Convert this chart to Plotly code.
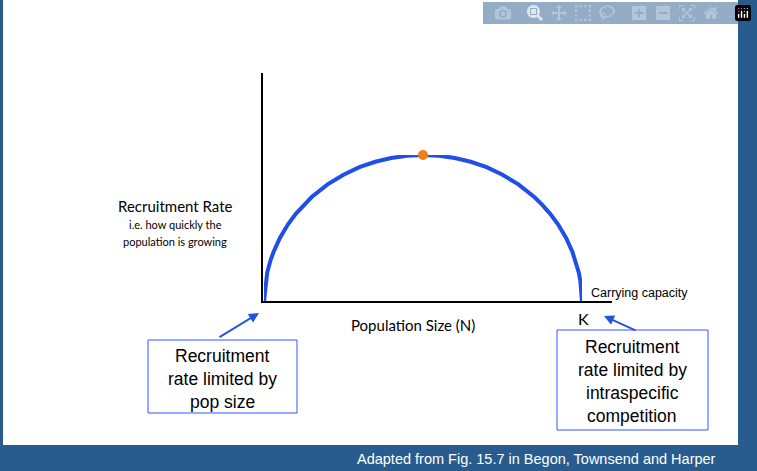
import plotly.graph_objects as go

W, H = 757, 471
N = [0, 0.5, 1, 2, 3, 5, 7.5, 10, 12.5, 15, 20, 25, 30, 35, 40, 45, 50,
     55, 60, 65, 70, 75, 80, 85, 87.5, 90, 92.5, 95, 97, 98, 99, 99.5, 100]
rate = [0, 0.14, 0.2, 0.28, 0.34, 0.436, 0.527, 0.6, 0.661, 0.714, 0.8, 0.866, 0.917, 0.954, 0.98, 0.995, 1.0,
        0.995, 0.98, 0.954, 0.917, 0.866, 0.8, 0.714, 0.661, 0.6, 0.527, 0.436, 0.34, 0.28, 0.2, 0.14, 0]
peak_N, peak_rate = [50], [1.0]

def px(x): return x / W
def py(y): return (H - y) / H

fig = go.Figure()
fig.add_trace(go.Scatter(x=N, y=rate, mode="lines", line=dict(color="#1f4fe8", width=4),
                         cliponaxis=False, hoverinfo="skip"))
fig.add_trace(go.Scatter(x=peak_N, y=peak_rate, mode="markers", marker=dict(color="#f07f1a", size=10),
                         cliponaxis=False))

shapes = [
    dict(type="rect", xref="paper", yref="paper", x0=px(3), x1=px(738), y0=py(445), y1=1.0,
         fillcolor="white", line=dict(width=0), layer="below"),
    dict(type="line", xref="paper", yref="paper", x0=px(262), x1=px(262), y0=py(73), y1=py(303),
         line=dict(color="black", width=2)),
    dict(type="line", xref="paper", yref="paper", x0=px(261), x1=px(612), y0=py(302), y1=py(302),
         line=dict(color="black", width=2)),
    dict(type="rect", xref="paper", yref="paper", x0=px(148), x1=px(297), y0=py(413), y1=py(340),
         line=dict(color="#3355ff", width=1), fillcolor="white"),
    dict(type="rect", xref="paper", yref="paper", x0=px(557), x1=px(708), y0=py(430), y1=py(330),
         line=dict(color="#3355ff", width=1), fillcolor="white"),
]

def txt(x, y, s, size, font="Lato", color="black", xanchor="center"):
    return dict(xref="paper", yref="paper", x=px(x), y=py(y), text=s, showarrow=False,
                xanchor=xanchor, yanchor="middle", font=dict(family=font, size=size, color=color))

ann = [
    txt(175, 206, "Recruitment Rate", 15),
    txt(175, 224, "i.e. how quickly the", 11),
    txt(175, 241, "population is growing", 11),
    txt(413, 325, "Population Size (N)", 15),
    txt(583, 318, "K", 16),
    txt(589, 293, "Carrying capacity", 12.5, "Liberation Sans", xanchor="left"),
    txt(222, 356, "Recruitment", 17.5, "Liberation Sans"),
    txt(222, 379, "rate limited by", 17.5, "Liberation Sans"),
    txt(222, 402, "pop size", 17.5, "Liberation Sans"),
    txt(632, 347, "Recruitment", 17.5, "Liberation Sans"),
    txt(632, 370, "rate limited by", 17.5, "Liberation Sans"),
    txt(632, 393, "intraspecific", 17.5, "Liberation Sans"),
    txt(632, 416, "competition", 17.5, "Liberation Sans"),
    txt(718, 459, "Adapted from Fig. 15.7 in Begon, Townsend and Harper", 14.5, "Liberation Sans",
        color="white", xanchor="right"),
    dict(xref="paper", yref="paper", x=px(259), y=py(313), ax=218 - 259, ay=338 - 313, axref="pixel",
         ayref="pixel", text="", showarrow=True, arrowhead=2, arrowsize=1, arrowwidth=2, arrowcolor="#2255dd"),
    dict(xref="paper", yref="paper", x=px(604), y=py(316), ax=637 - 604, ay=331 - 316, axref="pixel",
         ayref="pixel", text="", showarrow=True, arrowhead=2, arrowsize=1, arrowwidth=2, arrowcolor="#2255dd"),
]

fig.update_layout(
    width=W, height=H, margin=dict(l=0, r=0, t=0, b=0), showlegend=False,
    paper_bgcolor="#295c8e", plot_bgcolor="rgba(0,0,0,0)",
    xaxis=dict(domain=[px(264), px(582)], range=[0, 100], visible=False),
    yaxis=dict(domain=[py(302), py(155)], range=[0, 1], visible=False),
    shapes=shapes, annotations=ann,
)
fig.write_html("out.html", post_script="document.body.style.margin='0';document.body.style.overflow='hidden';")
